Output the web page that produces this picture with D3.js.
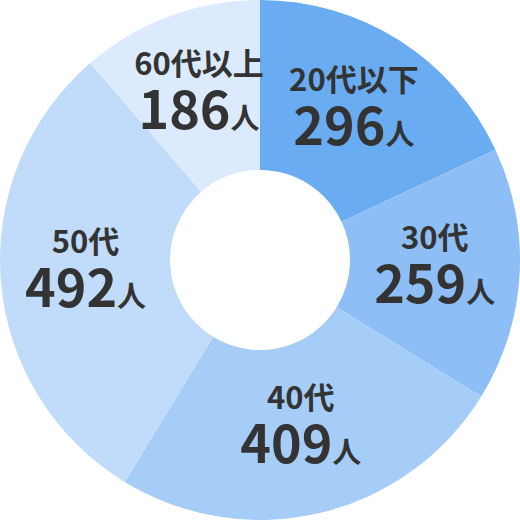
<!DOCTYPE html>
<html>
<head>
<meta charset="utf-8">
<script src="https://cdn.jsdelivr.net/npm/d3@7"></script>
<style>
  body { margin: 0; background: #fff; }
  text { font-family: "Noto Sans CJK JP", "Noto Sans", sans-serif; fill: #333; }
</style>
</head>
<body>
<div id="chart"></div>
<script>
// chart data
const categories = ["20代以下", "30代", "40代", "50代", "60代以上"];
const counts = [296, 259, 409, 492, 186];
const unit = "人";
const colors = ["#6aacf1", "#8dbef5", "#a6cdf7", "#c1dcfa", "#dbeafc"];

const width = 520;
const height = 520;
const outerR = 260;
const innerR = 90;

const svg = d3.select("#chart")
  .append("svg")
  .attr("width", width)
  .attr("height", height);

const g = svg.append("g")
  .attr("transform", `translate(${width / 2}, ${height / 2})`);

const pie = d3.pie()
  .sort(null)
  .value(d => d.count);

const data = categories.map((c, i) => ({ name: c, count: counts[i], color: colors[i] }));
const arcs = pie(data);

const arc = d3.arc()
  .innerRadius(innerR)
  .outerRadius(outerR);

// slices
g.selectAll("path.slice")
  .data(arcs)
  .enter()
  .append("path")
    .attr("class", "slice")
    .attr("d", arc)
    .attr("fill", d => d.data.color);

// labels sit on the arc centroid: name on top, count below
const labels = g.selectAll("g.label")
  .data(arcs)
  .enter()
  .append("g")
    .attr("class", "label")
    .attr("transform", d => `translate(${arc.centroid(d)})`);

labels.append("text")
  .attr("text-anchor", "middle")
  .attr("y", -21)
  .attr("font-size", 31)
  .attr("font-weight", 700)
  .text(d => d.data.name);

const num = labels.append("text")
  .attr("text-anchor", "middle")
  .attr("y", 33);

num.append("tspan")
  .attr("font-size", 52)
  .attr("font-weight", 700)
  .text(d => d.data.count);

num.append("tspan")
  .attr("font-size", 29)
  .attr("font-weight", 700)
  .text(unit);
</script>
</body>
</html>
